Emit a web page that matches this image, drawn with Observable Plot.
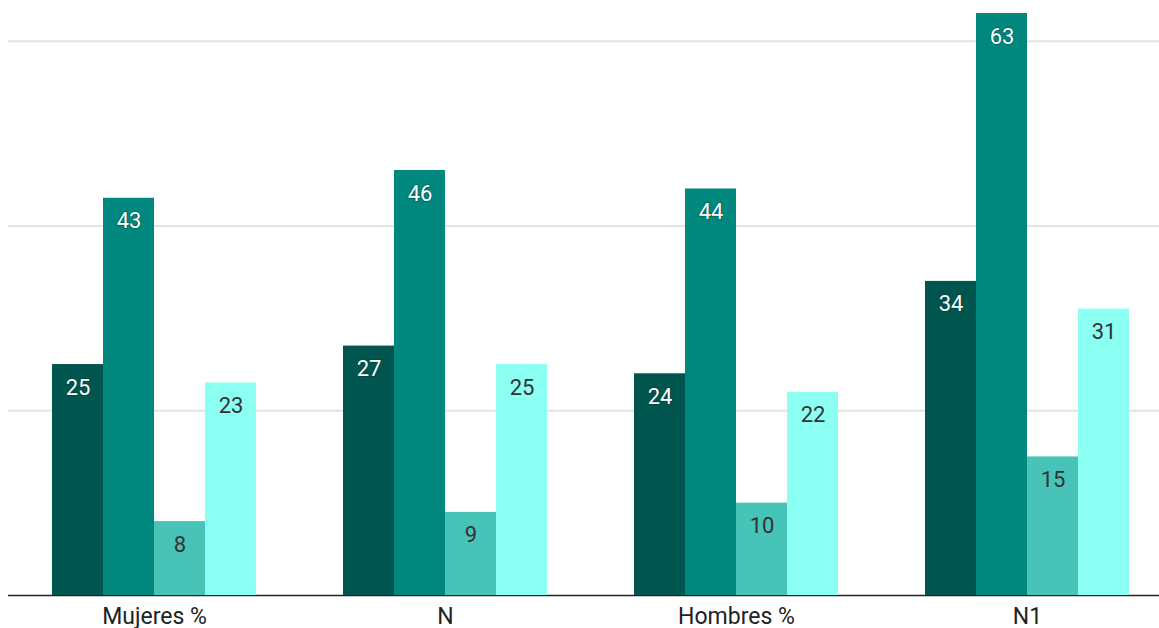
<!DOCTYPE html>
<html>
<head>
<meta charset="utf-8">
<script src="https://cdn.jsdelivr.net/npm/d3@7"></script>
<script src="https://cdn.jsdelivr.net/npm/@observablehq/plot@0.6"></script>
<style>
  body { margin: 0; background: #fff; }
  #chart { position: relative; width: 1159px; height: 628px; overflow: hidden; }
  #chart svg { position: absolute; left: 0; top: 0; background: transparent; }
  #chart svg g[aria-label="fx-axis tick label"] text,
  #chart svg g[aria-label="fx-axis"] text { font-size: 23px; fill: #222; }
</style>
</head>
<body>
<div id="chart"></div>
<script>
// Categories and the four series
const groups = ["Mujeres %", "N", "Hombres %", "N1"];
const seriesNames = ["Serie 1", "Serie 2", "Serie 3", "Serie 4"];
const serie1 = [25, 27, 24, 34];
const serie2 = [43, 46, 44, 63];
const serie3 = [8, 9, 10, 15];
const serie4 = [23, 25, 22, 31];
const gridValues = [20, 40, 60];
const colors = ["#00564f", "#00877e", "#47c3b8", "#8cfff3"];

const seriesValues = [serie1, serie2, serie3, serie4];
const data = [];
groups.forEach((g, gi) => {
  seriesNames.forEach((s, si) => {
    data.push({group: g, series: s, value: seriesValues[si][gi]});
  });
});

const W = 1159, H = 628;
const common = {
  width: W,
  height: H,
  marginTop: 13,
  marginBottom: 33,
  marginLeft: 8,
  marginRight: 0,
  style: {fontFamily: "Roboto, sans-serif", fontSize: "23px", color: "#222", background: "transparent"}
};
const yScale = {domain: [0, 63], axis: null};

// Background layer: gridlines and baseline spanning the full width
const back = Plot.plot({
  ...common,
  y: yScale,
  marks: [
    Plot.ruleY(gridValues, {stroke: "#e3e3e3", strokeWidth: 2}),
    Plot.ruleY([0], {stroke: "#222", strokeWidth: 1.5})
  ]
});

// Foreground layer: grouped bars with value labels
const darkSeries = seriesNames.slice(0, 2);
const front = Plot.plot({
  ...common,
  fx: {domain: groups, paddingInner: 0.2973, paddingOuter: 0.1243, align: 0.598,
       label: null, axis: "bottom", tickSize: 0, tickPadding: 12},
  x: {domain: seriesNames, padding: 0, axis: null},
  y: yScale,
  color: {domain: seriesNames, range: colors},
  marks: [
    Plot.barY(data, {fx: "group", x: "series", y: "value", fill: "series"}),
    Plot.text(data.filter(d => darkSeries.includes(d.series)), {
      fx: "group", x: "series", y: "value", text: d => String(d.value),
      dy: 23, fill: "#fff", stroke: "#00302b", strokeOpacity: 0.35, strokeWidth: 2,
      fontSize: 22
    }),
    Plot.text(data.filter(d => !darkSeries.includes(d.series)), {
      fx: "group", x: "series", y: "value", text: d => String(d.value),
      dy: 23, fill: "#333", fontSize: 22
    })
  ]
});

const root = document.getElementById("chart");
root.appendChild(back);
root.appendChild(front);
</script>
</body>
</html>
